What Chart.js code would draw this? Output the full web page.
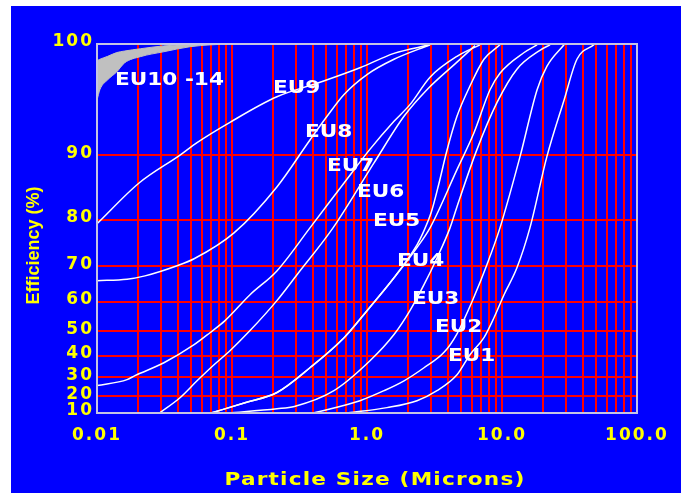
<!DOCTYPE html>
<html>
<head>
  <title>Filter Efficiency vs Particle Size</title>
  <script src="https://cdn.jsdelivr.net/npm/chart.js"></script>
  <style>
    body {
      margin: 0;
      background: #ffffff;
    }
    #frame {
      position: absolute;
      left: 11px;
      top: 6px;
      width: 670px;
      height: 487px;
      background: #0000ff;
    }
  </style>
</head>
<body>
  <div id="frame"><canvas id="effChart" width="670" height="487"></canvas></div>

  <script>
    // particle size (microns) and efficiency (%)
    const sizeEU1 = [0.72, 1.406, 2.346, 3.30, 4.64, 5.79, 7.35, 8.72, 10.35, 12.9, 16.1, 21.5, 28.8, 35.9, 48.0];
    const effEU1  = [10, 13.3, 17.4, 23.0, 31.2, 40.5, 47.5, 54.8, 62.2, 69.6, 78.5, 89.8, 95.8, 99.0, 99.95];

    const sizeEU2 = [0.40, 0.887, 1.336, 1.88, 2.644, 3.72, 4.64, 6.2, 7.74, 9.66, 13.6, 18.2, 21.5, 28.8];
    const effEU2  = [10, 17.4, 23.0, 28.2, 34.6, 41.5, 49.0, 61.5, 70.4, 78.5, 89.8, 96.7, 98.5, 99.95];

    const sizeEU3 = [0.0934, 0.2154, 0.29, 0.569, 1.052, 1.585, 2.08, 2.644, 3.30, 4.12, 4.64, 6.53, 9.19, 12.9, 19.1, 22.7];
    const effEU3  = [10, 12.6, 14.0, 23.0, 37.8, 48.7, 57.2, 65.1, 72.0, 78.5, 82.4, 90.7, 95.6, 98.3, 99.6, 99.95];

    const sizeEU4 = [0.07, 0.1248, 0.2154, 0.378, 0.676, 1.0, 1.585, 2.346, 2.93, 4.64, 6.2, 8.15, 9.66, 14.5, 18.2];
    const effEU4  = [10, 16.2, 22.0, 34.6, 47.5, 57.2, 67.0, 74.4, 78.5, 88.1, 92.6, 96.7, 98.0, 99.44, 99.95];

    const sizeEU5 = [0.07, 0.1248, 0.2154, 0.378, 0.676, 1.0, 1.585, 2.346, 2.6, 3.0, 3.4, 3.9, 4.64, 5.79, 7.35, 9.66];
    const effEU5  = [10, 16.2, 22.0, 34.6, 47.5, 57.2, 67.0, 75.0, 77.5, 81.5, 86.0, 90.5, 94.3, 97.0, 99.0, 99.95];

    const sizeEU6 = [0.029, 0.0412, 0.0551, 0.0736, 0.0966, 0.136, 0.215, 0.303, 0.56, 1.127, 1.88, 2.78, 4.64, 6.31];
    const effEU6  = [10, 19.1, 28.2, 36.0, 42.2, 50.2, 60.4, 67.8, 78.5, 89.0, 94.3, 96.7, 98.8, 99.9];

    const sizeEU7 = [0.01, 0.0167, 0.0191, 0.0313, 0.0524, 0.0687, 0.0888, 0.136, 0.215, 0.378, 0.676, 1.05, 1.585, 2.08, 2.93, 4.64, 6.87];
    const effEU7  = [25.7, 28.8, 30.8, 36.9, 44.7, 49.4, 53.8, 62.2, 68.8, 78.5, 86.2, 90.7, 93.8, 95.4, 97.7, 99.2, 99.95];

    const sizeEU8 = [0.01, 0.0167, 0.0227, 0.0392, 0.0524, 0.1035, 0.215, 0.378, 0.506, 0.676, 1.0, 1.585, 2.93];
    const effEU8  = [66.2, 66.6, 67.5, 70.1, 71.8, 77.5, 85.6, 91.8, 94.3, 96.3, 97.9, 99.0, 99.95];

    const sizeEU9 = [0.01, 0.0205, 0.0412, 0.0551, 0.0966, 0.215, 0.449, 0.887, 1.585, 2.93];
    const effEU9  = [79.3, 86.2, 90.0, 91.5, 93.7, 96.1, 97.3, 98.4, 99.4, 99.95];

    // EU10 - EU14 band (upper and lower edge)
    const bandSize  = [0.01, 0.0105, 0.012, 0.014, 0.016, 0.021, 0.031, 0.049, 0.07, 0.1];
    const bandUpper = [98.9, 99.0, 99.2, 99.45, 99.55, 99.7, 99.88, 99.97, 100, 100];
    const bandLower = [95.8, 96.7, 97.5, 98.1, 98.75, 99.18, 99.5, 99.83, 99.95, 100];

    // curve labels, anchored at (size, efficiency)
    const curveNames = ['EU1', 'EU2', 'EU3', 'EU4', 'EU5', 'EU6', 'EU7', 'EU8', 'EU9', 'EU10 -14'];
    const labelSize  = [3.98, 3.19, 2.154, 1.668, 1.108, 0.843, 0.506, 0.347, 0.201, 0.0136];
    const labelEff   = [40.0, 51.3, 60.7, 71.2, 79.7, 84.7, 88.5, 92.6, 96.8, 97.44];

    // axes
    const xDecades = [0.01, 0.1, 1, 10];
    const xTickValues = [0.01, 0.1, 1, 10, 100];
    const xTickLabels = ['0.01', '0.1', '1.0', '10.0', '100.0'];
    const yTickValues = [100, 90, 80, 70, 60, 50, 40, 30, 20, 10];
    const xTitle = 'Particle Size (Microns)';
    const yTitle = 'Efficiency (%)';

    // the efficiency axis is logarithmic in (110 - efficiency)
    const toAxis = e => 110 - e;

    const xGrid = [];
    xDecades.forEach(dec => {
      for (let m = 1; m <= 9; m++) xGrid.push(Number((m * dec).toPrecision(3)));
    });
    xGrid.push(100);

    function pts(size, eff) {
      return size.map((d, i) => ({ x: d, y: toAxis(eff[i]) }));
    }

    function curve(size, eff) {
      return {
        data: pts(size, eff),
        showLine: true,
        borderColor: '#ffffff',
        borderWidth: 1.5,
        pointRadius: 0,
        cubicInterpolationMode: 'monotone',
        fill: false
      };
    }

    const datasets = [
      {
        data: pts(bandSize, bandUpper),
        showLine: true,
        borderColor: '#c0c0c0',
        backgroundColor: '#c0c0c0',
        borderWidth: 1,
        pointRadius: 0,
        cubicInterpolationMode: 'monotone',
        fill: '+1'
      },
      {
        data: pts(bandSize, bandLower),
        showLine: true,
        borderColor: '#c0c0c0',
        borderWidth: 1,
        pointRadius: 0,
        cubicInterpolationMode: 'monotone',
        fill: false
      },
      curve(sizeEU9, effEU9),
      curve(sizeEU8, effEU8),
      curve(sizeEU7, effEU7),
      curve(sizeEU6, effEU6),
      curve(sizeEU5, effEU5),
      curve(sizeEU4, effEU4),
      curve(sizeEU3, effEU3),
      curve(sizeEU2, effEU2),
      curve(sizeEU1, effEU1)
    ];

    const tickFont = { family: '"DejaVu Sans", sans-serif', weight: 'bold', size: 17 };

    const decorations = {
      id: 'decorations',
      beforeDraw(chart) {
        chart.ctx.letterSpacing = '2px';
      },
      afterDatasetsDraw(chart) {
        const { ctx, chartArea: a, scales } = chart;
        ctx.save();
        ctx.strokeStyle = '#c4c4e4';
        ctx.lineWidth = 2;
        ctx.strokeRect(a.left, a.top, a.right - a.left, a.bottom - a.top);

        // wide bold labels: stretch the glyphs a little horizontally
        ctx.letterSpacing = '0px';
        ctx.fillStyle = '#ffffff';
        ctx.font = 'bold 18px "DejaVu Sans"';
        ctx.textAlign = 'left';
        ctx.textBaseline = 'middle';
        curveNames.forEach((name, i) => {
          ctx.save();
          ctx.translate(scales.x.getPixelForValue(labelSize[i]), scales.y.getPixelForValue(toAxis(labelEff[i])));
          ctx.scale(1.2, 1);
          ctx.fillText(name, 0, 0);
          ctx.restore();
        });
        ctx.restore();
      },
      afterDraw(chart) {
        const { ctx, chartArea: a } = chart;
        ctx.save();
        ctx.fillStyle = '#ffff00';
        ctx.textAlign = 'center';
        ctx.textBaseline = 'middle';

        ctx.save();
        ctx.translate((a.left + a.right) / 2 + 8, a.bottom + 67);
        ctx.scale(1.2, 1);
        ctx.font = 'bold 18px "DejaVu Sans"';
        ctx.letterSpacing = '1px';
        ctx.fillText(xTitle, 0, 0);
        ctx.restore();

        ctx.translate(23, (a.top + a.bottom) / 2 + 17);
        ctx.rotate(-Math.PI / 2);
        ctx.font = 'bold 18px "Liberation Sans"';
        ctx.letterSpacing = '0px';
        ctx.fillText(yTitle, 0, 0);
        ctx.restore();
        ctx.letterSpacing = '0px';
      }
    };

    new Chart(document.getElementById('effChart'), {
      type: 'scatter',
      data: { datasets },
      options: {
        responsive: false,
        animation: false,
        layout: { padding: { top: 38, right: 44, left: 0, bottom: 0 } },
        plugins: {
          legend: { display: false },
          tooltip: { enabled: false }
        },
        scales: {
          x: {
            type: 'logarithmic',
            min: 0.01,
            max: 100,
            afterBuildTicks: s => { s.ticks = xGrid.map(v => ({ value: v })); },
            afterFit: s => { s.height = 80; },
            border: { display: false },
            grid: {
              color: c => (c.tick && (c.tick.value <= 0.0100001 || c.tick.value >= 99.999)) ? 'rgba(0,0,0,0)' : '#ff0000',
              lineWidth: 2,
              drawTicks: false
            },
            ticks: {
              autoSkip: false,
              maxRotation: 0,
              padding: 12,
              color: '#ffff00',
              font: tickFont,
              callback: v => {
                const i = xTickValues.findIndex(t => Math.abs(Math.log10(t) - Math.log10(v)) < 1e-6);
                return i >= 0 ? xTickLabels[i] : '';
              }
            }
          },
          y: {
            type: 'logarithmic',
            reverse: true,
            min: 10,
            max: 100,
            afterBuildTicks: s => { s.ticks = yTickValues.map(e => ({ value: toAxis(e) })); },
            afterFit: s => { s.width = 86; },
            border: { display: false },
            grid: {
              color: c => (c.tick && (c.tick.value <= 10.0001 || c.tick.value >= 99.999)) ? 'rgba(0,0,0,0)' : '#ff0000',
              lineWidth: 2,
              drawTicks: false
            },
            ticks: {
              padding: 3,
              labelOffset: -2,
              color: '#ffff00',
              font: tickFont,
              callback: v => String(Math.round(110 - v))
            }
          }
        }
      },
      plugins: [decorations]
    });
  </script>
</body>
</html>
